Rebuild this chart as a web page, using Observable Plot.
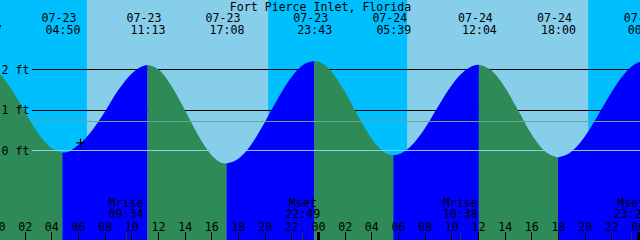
<!DOCTYPE html>
<html>
<head>
<meta charset="utf-8">
<script src="https://cdn.jsdelivr.net/npm/d3@7"></script>
<script src="https://cdn.jsdelivr.net/npm/@observablehq/plot@0.6"></script>
<style>
  html, body { margin: 0; padding: 0; background: #ffffff; }
  svg { display: block; }
</style>
</head>
<body>
<div id="chart"></div>
<script>
// ---- Data ----
const title = "Fort Pierce Inlet, Florida";

// High / low tide events
const eventDate  = ["07-22", "07-23", "07-23", "07-23", "07-23", "07-24", "07-24", "07-24", "07-25"];
const eventClock = ["22:57", "04:50", "11:13", "17:08", "23:43", "05:39", "12:04", "18:00", "00:30"];
const eventLevel = [2.08, -0.05, 2.11, -0.32, 2.21, -0.12, 2.12, -0.17, 2.20];

// Hourly water level readings (ft), hours since 07-23 00:00
const readingHours  = [0, 1, 2, 3, 4, 5, 6, 7, 8, 9, 10, 11, 12, 13, 14, 15, 16, 17, 18, 19, 20, 21, 22, 23, 24,
                       25, 26, 27, 28, 29, 30, 31, 32, 33, 34, 35, 36, 37, 38, 39, 40, 41, 43, 44, 45, 46, 47, 48];
const readingLevels = [1.93, 1.52, 0.97, 0.43, 0.06, -0.05, 0.13, 0.47, 0.95, 1.48, 1.89, 2.10, 2.01, 1.60, 1.01, 0.38, -0.11, -0.32, -0.21, 0.15, 0.69, 1.29, 1.81, 2.14, 2.20,
                       1.95, 1.46, 0.85, 0.30, -0.05, -0.10, 0.12, 0.54, 1.08, 1.60, 1.97, 2.12, 1.98, 1.57, 1.00, 0.41, -0.01, -0.03, 0.34, 0.87, 1.43, 1.90, 2.17];

// Moon events
const moonKind  = ["Mrise", "Mset", "Mrise", "Mset"];
const moonDate  = ["07-23", "07-23", "07-24", "07-24"];
const moonClock = ["09:34", "22:49", "10:38", "23:27"];

// Daylight
const sunDate      = ["07-23", "07-24"];
const sunriseClock = ["06:40", "06:41"];
const sunsetClock  = ["20:16", "20:16"];

// Current time marker
const nowDate = "07-23", nowClock = "06:09", nowLevel = 0.20;

// Reference levels
const levelTicks  = [0, 1, 2];
const levelLabels = ["0 ft", "1 ft", "2 ft"];
const mslLevel = 0.74;

// Hour tick labels (every 2 hours)
const hourLabels = ["00","02","04","06","08","10","12","14","16","18","20","22",
                    "00","02","04","06","08","10","12","14","16","18","20","22","00"];
const midnights = [24, 48];

// ---- Colours ----
const cDay = "#87ceeb", cNight = "#00bfff", cRise = "#0000ff", cFall = "#2e8b57";
const cMsl = "#62a898", cDatum = "#87ceeb";

// ---- Build tables ----
function toHours(date, clock) {
  const day = +date.slice(3);
  const [hh, mm] = clock.split(":").map(Number);
  return (day - 23) * 24 + hh + mm / 60;
}
const events = eventDate.map((d, i) => ({t: toHours(d, eventClock[i]), v: eventLevel[i], date: d, clock: eventClock[i]}));
const points = [
  ...events.map(e => ({t: e.t, v: e.v})),
  ...readingHours.map((t, i) => ({t, v: readingLevels[i]}))
].sort((a, b) => a.t - b.t);
const curveData = [];
for (let i = 0; i < events.length - 1; i++) {
  const a = events[i], b = events[i + 1];
  const dir = b.v > a.v ? "rising" : "falling";
  for (const p of points) if (p.t >= a.t && p.t <= b.t) curveData.push({t: p.t, v: p.v, seg: i, dir});
}
const moons = moonKind.map((k, i) => ({t: toHours(moonDate[i], moonClock[i]), kind: k, clock: moonClock[i]}));
const days = sunDate.map((d, i) => ({t1: toHours(d, sunriseClock[i]), t2: toHours(d, sunsetClock[i])}));
const hours = hourLabels.map((l, i) => ({t: i * 2, label: l}));
const levels = levelTicks.map((v, i) => ({v, label: levelLabels[i]}));
const now = [{t: toHours(nowDate, nowClock), v: nowLevel}];

const xDomain = [0.15, 48.15];
const yDomain = [-2.21, 3.716];
const yBottom = yDomain[0];
const font = {fontFamily: "DejaVu Sans Mono", fontSize: 11.6, fill: "black"};

const chart = Plot.plot({
  width: 640,
  height: 240,
  margin: 0,
  x: {domain: xDomain, axis: null},
  y: {domain: yDomain, axis: null},
  color: {domain: ["rising", "falling"], range: [cRise, cFall]},
  style: {background: cNight},
  marks: [
    Plot.frame({fill: cNight, stroke: null}),
    Plot.rect(days, {x1: "t1", x2: "t2", fill: cDay}),
    Plot.ruleY([1, 2], {stroke: "black", strokeWidth: 1, insetLeft: 32, shapeRendering: "crispEdges"}),
    Plot.areaY(curveData, {x: "t", y1: yBottom, y2: "v", z: "seg", fill: "dir", curve: "monotone-x"}),
    Plot.ruleY([mslLevel], {stroke: cMsl, strokeWidth: 1, insetLeft: 32, shapeRendering: "crispEdges"}),
    Plot.ruleY([0], {stroke: cDatum, strokeWidth: 1, insetLeft: 32, shapeRendering: "crispEdges"}),
    Plot.text(levels, {y: "v", text: "label", frameAnchor: "left", textAnchor: "start", dx: 1, lineAnchor: "middle", ...font}),
    Plot.text([title], {text: d => d, frameAnchor: "top", lineAnchor: "bottom", dy: 10.2, ...font}),
    Plot.text(events, {x: "t", text: "date", frameAnchor: "top", lineAnchor: "bottom", dy: 21.8, dx: -4, ...font}),
    Plot.text(events, {x: "t", text: "clock", frameAnchor: "top", lineAnchor: "bottom", dy: 33.5, ...font}),
    Plot.text(moons, {x: "t", text: "kind", frameAnchor: "bottom", lineAnchor: "bottom", dy: -33.3, ...font}),
    Plot.text(moons, {x: "t", text: "clock", frameAnchor: "bottom", lineAnchor: "bottom", dy: -22.2, ...font}),
    Plot.text(hours, {x: "t", text: "label", frameAnchor: "bottom", lineAnchor: "bottom", dy: -9.8, ...font}),
    Plot.ruleX(hours, {x: "t", stroke: "black", strokeWidth: 1, insetTop: 232, shapeRendering: "crispEdges"}),
    Plot.ruleX(moons, {x: "t", stroke: "#333333", strokeWidth: 1, insetTop: 232, shapeRendering: "crispEdges"}),
    Plot.ruleX(midnights, {stroke: "black", strokeWidth: 3, insetTop: 232, shapeRendering: "crispEdges"}),
    Plot.dot(now, {x: "t", y: "v", symbol: "plus", r: 2.9, stroke: "black", strokeWidth: 1.2})
  ]
});
document.getElementById("chart").appendChild(chart);
</script>
</body>
</html>
